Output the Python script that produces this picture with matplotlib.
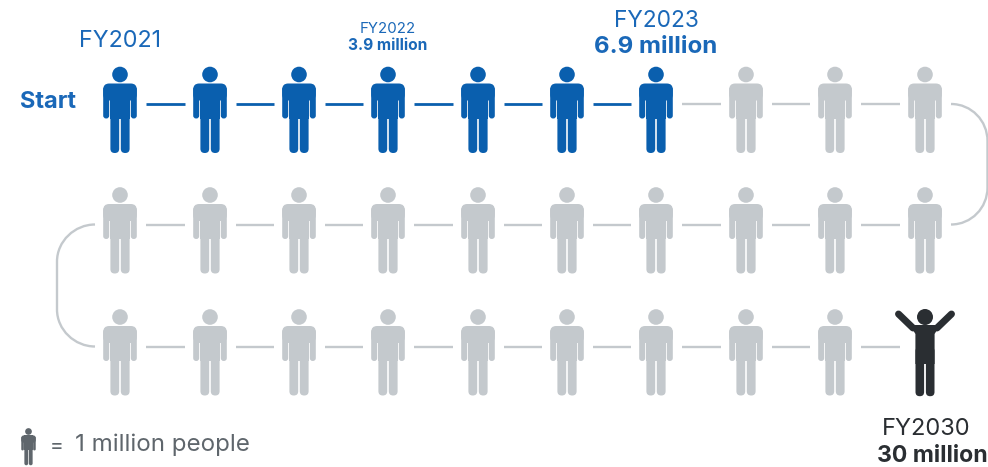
import matplotlib
matplotlib.use("Agg")
import matplotlib.pyplot as plt
from matplotlib.patches import Circle, PathPatch, Polygon, Rectangle, FancyBboxPatch
from matplotlib.path import Path

plt.rcParams['font.family'] = ['Inter', 'DejaVu Sans']

## column centres and the y of each row's head, in pixels
col_x = [120, 210, 299, 388, 478, 567, 656, 746, 835, 925]
row_y = [74.5, 195, 317]
total_people = 30
reached_people = 7

BLUE = '#0a5fae'
GREY = '#c4c9cd'
DARK = '#2a2e32'
LABEL_BLUE = '#1a68b8'
LEGEND_GREY = '#5f666c'


def draw_person(ax, cx, head_y, color, scale=1.0):
    # arms, torso and legs are offsets from the head centre
    def box(x0, y0, x1, y1, r):
        ax.add_patch(FancyBboxPatch((cx + x0 * scale + r * scale, head_y + y0 * scale + r * scale),
                                    (x1 - x0 - 2 * r) * scale, (y1 - y0 - 2 * r) * scale,
                                    boxstyle=f"round,pad={r * scale},rounding_size={r * scale}",
                                    fc=color, ec='none'))
    ax.add_patch(Circle((cx, head_y), 7.8 * scale, fc=color, ec='none'))
    box(-16.8, 9, 16.8, 26, 6)                  # shoulders
    box(-16.8, 12, -10.8, 44, 2.9)              # left arm
    box(10.8, 12, 16.8, 44, 2.9)                # right arm
    ax.add_patch(Rectangle((cx - 9.6 * scale, head_y + 9 * scale), 19.2 * scale, 35 * scale, fc=color, ec='none'))
    box(-9.6, 30, -0.8, 78.5, 4.3)              # left leg
    box(0.8, 30, 9.6, 78.5, 4.3)                # right leg


def draw_winner(ax, cx, head_y, color):
    ax.add_patch(Circle((cx, head_y), 8, fc=color, ec='none'))
    ax.plot([cx - 12, cx - 26.5], [head_y + 11, head_y - 3], color=color, lw=5, solid_capstyle='round')
    ax.plot([cx + 12, cx + 26.5], [head_y + 11, head_y - 3], color=color, lw=5, solid_capstyle='round')
    # chest narrows from the raised arms down to the waist
    ax.add_patch(Polygon([(cx - 15, head_y + 8), (cx + 15, head_y + 8), (cx + 9.6, head_y + 17),
                          (cx + 9.6, head_y + 47), (cx - 9.6, head_y + 47), (cx - 9.6, head_y + 17)],
                         fc=color, ec='none'))
    for x0 in (-9.6, 0.8):
        ax.add_patch(FancyBboxPatch((cx + x0 + 4.3, head_y + 34), 0.2, 41,
                                    boxstyle="round,pad=4.2,rounding_size=4.2", fc=color, ec='none'))


fig = plt.figure(figsize=(9.88, 4.67), dpi=100)
ax = fig.add_axes([0, 0, 1, 1])
ax.set_xlim(0, 988)
ax.set_ylim(467, 0)
ax.axis('off')

# connectors between neighbours
for r, head_y in enumerate(row_y):
    y = head_y + 29.5
    for c in range(len(col_x) - 1):
        done = r == 0 and c + 1 < reached_people
        ax.plot([col_x[c] + 26, col_x[c + 1] - 25], [y, y], color=BLUE if done else GREY,
                lw=2.0 if done else 1.7, solid_capstyle='butt')

# rounded links joining the rows
y0, y1, y2 = [h + 29.5 for h in row_y]
R = 37
K = 0.55 * R
C4 = Path.CURVE4
right_link = Path([(951, y0), (951 + K, y0), (987.5, y0 + R - K), (987.5, y0 + R), (987.5, y1 - R),
                   (987.5, y1 - R + K), (951 + K, y1), (951, y1)],
                  [Path.MOVETO, C4, C4, C4, Path.LINETO, C4, C4, C4])
left_link = Path([(95, y1), (95 - K, y1), (57, y1 + R - K), (57, y1 + R), (57, y2 - R),
                  (57, y2 - R + K), (95 - K, y2), (95, y2)],
                 [Path.MOVETO, C4, C4, C4, Path.LINETO, C4, C4, C4])
for link in (right_link, left_link):
    ax.add_patch(PathPatch(link, fc='none', ec=GREY, lw=1.7))

# the people, counted left to right on every row
count = 0
for head_y in row_y:
    for x in col_x:
        count += 1
        if count == total_people:
            draw_winner(ax, x, head_y, DARK)
        else:
            draw_person(ax, x, head_y, BLUE if count <= reached_people else GREY)

# labels
ax.text(120, 41, 'FY2021', color=LABEL_BLUE, fontsize=16.8, ha='center', va='center')
ax.text(388, 29, 'FY2022', color=LABEL_BLUE, fontsize=10.8, ha='center', va='center')
ax.text(388, 45, '3.9 million', color=LABEL_BLUE, fontsize=11.2, fontweight='bold', ha='center', va='center')
ax.text(656, 21, 'FY2023', color=LABEL_BLUE, fontsize=16.4, ha='center', va='center')
ax.text(656, 47, '6.9 million', color=LABEL_BLUE, fontsize=17.3, fontweight='bold', ha='center', va='center')
ax.text(20, 102, 'Start', color=LABEL_BLUE, fontsize=17, fontweight='bold', ha='left', va='center')
ax.text(926, 429, 'FY2030', color=DARK, fontsize=17, ha='center', va='center')
ax.text(932, 456, '30 million', color=DARK, fontsize=16.6, fontweight='bold', ha='center', va='center')

# key
draw_person(ax, 28.5, 431.5, LEGEND_GREY, scale=0.43)
ax.text(50, 446, '=', color=LEGEND_GREY, fontsize=15, ha='left', va='center')
ax.text(75, 445, '1 million people', color=LEGEND_GREY, fontsize=17.4, ha='left', va='center')

fig.savefig('out.png', dpi=100)
